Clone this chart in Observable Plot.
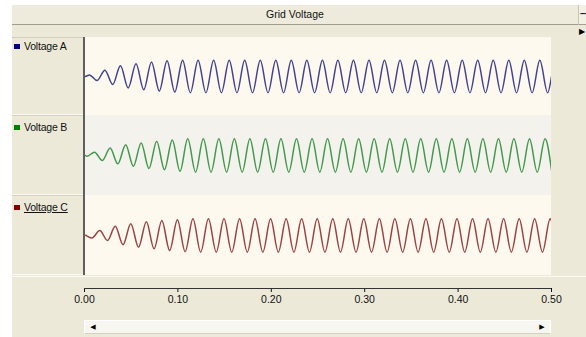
<!DOCTYPE html>
<html>
<head>
<meta charset="utf-8">
<script src="https://cdn.jsdelivr.net/npm/d3@7"></script>
<script src="https://cdn.jsdelivr.net/npm/@observablehq/plot@0.6"></script>
<style>
  html, body { margin: 0; padding: 0; background: #ffffff; }
  body { width: 586px; height: 337px; position: relative; overflow: hidden;
         font-family: "Liberation Sans", "DejaVu Sans", sans-serif; }
  .abs { position: absolute; }
  #frame { left: 12px; top: 5px; width: 574px; height: 332px; background: #ece9d8; }
  #titlebar { left: 12px; top: 5px; width: 566px; height: 19px; background: #eeebdd;
              border-bottom: 1px solid #a19e8f; font-size: 10.5px; color: #111;
              text-align: center; line-height: 19px; }
  #minbtn { left: 578px; top: 5px; width: 8px; height: 19px; background: #f3f1e6;
            border-left: 1px solid #c9c5b3; border-bottom: 1px solid #a19e8f;
            font-size: 11px; font-weight: bold; line-height: 17px; text-align: center; color: #222; }
  .cell { left: 12px; width: 71px; background: #ece9d8; box-sizing: border-box;
          border-bottom: 1px solid #fbfaf4; border-top: 1px solid #d3cfbf; }
  .lab { left: 14px; font-size: 10.5px; color: #111; line-height: 12px; white-space: nowrap; letter-spacing: -0.2px; }
  .sw { display: inline-block; width: 6px; height: 5px; margin-right: 4px; vertical-align: 1px; }
  #vline { left: 83px; top: 37px; width: 2px; height: 238px; background: #5f5f5f; }
  .panel { left: 85px; }
  #band { left: 12px; top: 276px; width: 574px; height: 1px; background: #fbfaf4; }
  #scroll { left: 84px; top: 320px; width: 467px; height: 14px; background: #f7f6f1;
            box-sizing: border-box; border: 1px solid #ffffff; border-bottom-color: #d6d2c2; }
  .arrow { top: 0px; width: 12px; height: 12px; font-size: 7px; line-height: 12px; text-align: center; color: #000; }
  #rtri { left: 579px; top: 27px; font-size: 8px; color: #000; }
</style>
</head>
<body>
<script>
// ---- data ----
const title = "Grid Voltage";
const seriesNames = ["Voltage A", "Voltage B", "Voltage C"];
const seriesColors = ["#2d2d86", "#2f8f3a", "#8e2f2f"];
const swatchColors = ["#000080", "#008000", "#800000"];
const panelFills = ["#fdf9ef", "#f3f2ec", "#fdf9ef"];

const tickValues = [0, 0.1, 0.2, 0.3, 0.4, 0.5];
const tickLabels = ["0.00", "0.10", "0.20", "0.30", "0.40", "0.50"];

// time (s) of each extremum of each trace, with the start and end of the record
const timeA = [0, 0.0042, 0.0125, 0.0208, 0.0292, 0.0375, 0.0458, 0.0542, 0.0625, 0.0708, 0.0792,
  0.0875, 0.0958, 0.1042, 0.1125, 0.1208, 0.1292, 0.1375, 0.1458, 0.1542, 0.1625, 0.1708, 0.1792,
  0.1875, 0.1958, 0.2042, 0.2125, 0.2208, 0.2292, 0.2375, 0.2458, 0.2542, 0.2625, 0.2708, 0.2792,
  0.2875, 0.2958, 0.3042, 0.3125, 0.3208, 0.3292, 0.3375, 0.3458, 0.3542, 0.3625, 0.3708, 0.3792,
  0.3875, 0.3958, 0.4042, 0.4125, 0.4208, 0.4292, 0.4375, 0.4458, 0.4542, 0.4625, 0.4708, 0.4792,
  0.4875, 0.4958, 0.5];
const voltA = [0, 0.1, -0.24, 0.39, -0.49, 0.66, -0.7, 0.78, -0.82, 0.9, -0.9, 0.97, -0.96,
  1, -1, 1, -1, 1, -1, 1, -1, 1, -1, 1, -1,
  1, -1, 1, -1, 1, -1, 1, -1, 1, -1, 1, -1,
  1, -1, 1, -1, 1, -1, 1, -1, 1, -1, 1, -1,
  1, -1, 1, -1, 1, -1, 1, -1, 1, -1, 1, -1,
  0];

const timeB = [0, 0.0014, 0.0097, 0.0181, 0.0264, 0.0347, 0.0431, 0.0514, 0.0597, 0.0681, 0.0764,
  0.0847, 0.0931, 0.1014, 0.1097, 0.1181, 0.1264, 0.1347, 0.1431, 0.1514, 0.1597, 0.1681, 0.1764,
  0.1847, 0.1931, 0.2014, 0.2097, 0.2181, 0.2264, 0.2347, 0.2431, 0.2514, 0.2597, 0.2681, 0.2764,
  0.2847, 0.2931, 0.3014, 0.3097, 0.3181, 0.3264, 0.3347, 0.3431, 0.3514, 0.3597, 0.3681, 0.3764,
  0.3847, 0.3931, 0.4014, 0.4097, 0.4181, 0.4264, 0.4347, 0.4431, 0.4514, 0.4597, 0.4681, 0.4764,
  0.4847, 0.4931, 0.5];
const voltB = [0, -0.05, 0.2, -0.3, 0.45, -0.5, 0.65, -0.65, 0.75, -0.78, 0.85, -0.85, 0.93, -0.95,
  1, -1, 1, -1, 1, -1, 1, -1, 1, -1, 1, -1,
  1, -1, 1, -1, 1, -1, 1, -1, 1, -1, 1, -1,
  1, -1, 1, -1, 1, -1, 1, -1, 1, -1, 1, -1,
  1, -1, 1, -1, 1, -1, 1, -1, 1, -1, 1,
  -0.87];

const timeC = [0, 0.0069, 0.0153, 0.0236, 0.0319, 0.0403, 0.0486, 0.0569, 0.0653, 0.0736, 0.0819,
  0.0903, 0.0986, 0.1069, 0.1153, 0.1236, 0.1319, 0.1403, 0.1486, 0.1569, 0.1653, 0.1736, 0.1819,
  0.1903, 0.1986, 0.2069, 0.2153, 0.2236, 0.2319, 0.2403, 0.2486, 0.2569, 0.2653, 0.2736, 0.2819,
  0.2903, 0.2986, 0.3069, 0.3153, 0.3236, 0.3319, 0.3403, 0.3486, 0.3569, 0.3653, 0.3736, 0.3819,
  0.3903, 0.3986, 0.4069, 0.4153, 0.4236, 0.4319, 0.4403, 0.4486, 0.4569, 0.4653, 0.4736, 0.4819,
  0.4903, 0.4986, 0.5];
const voltC = [0.02, -0.15, 0.3, -0.3, 0.55, -0.55, 0.7, -0.7, 0.82, -0.8, 0.9, -0.9, 0.95, -0.97,
  1, -1, 1, -1, 1, -1, 1, -1, 1, -1, 1, -1,
  1, -1, 1, -1, 1, -1, 1, -1, 1, -1, 1, -1,
  1, -1, 1, -1, 1, -1, 1, -1, 1, -1, 1, -1,
  1, -1, 1, -1, 1, -1, 1, -1, 1, -1, 1,
  0.87];

const times = [timeA, timeB, timeC];
const volts = [voltA, voltB, voltC];
times.forEach((t, i) => { if (t.length !== volts[i].length) throw new Error("length mismatch " + i + ": " + t.length + " vs " + volts[i].length); });

// ---- layout ----
function add(tag, cls, id, css, html) {
  const el = document.createElement(tag);
  el.className = "abs " + (cls || "");
  if (id) el.id = id;
  if (css) Object.assign(el.style, css);
  if (html != null) el.textContent = html;
  document.body.appendChild(el);
  return el;
}
add("div", "", "frame");
add("div", "", "titlebar", null, title);
add("div", "", "minbtn", null, "\u2013");
add("div", "", "rtri", null, "\u25B6");

const panelTops = [37, 115, 195];
const panelHeights = [78, 80, 80];
const labelCenters = [46, 127, 207];

panelTops.forEach((top, i) => {
  add("div", "cell", null, { top: top + "px", height: panelHeights[i] + "px" });
  const lab = add("div", "lab", null, { top: (labelCenters[i] - 6) + "px" });
  const sw = document.createElement("span");
  sw.className = "sw";
  sw.style.background = swatchColors[i];
  lab.appendChild(sw);
  const txt = document.createElement("span");
  txt.textContent = seriesNames[i];
  if (i === 2) txt.style.textDecoration = "underline";
  lab.appendChild(txt);

  const data = times[i].map((t, k) => ({ t, v: volts[i][k] }));
  const chart = Plot.plot({
    width: 466,
    height: panelHeights[i],
    margin: 0,
    x: { domain: [0, 0.5], axis: null },
    y: { domain: [-2.4, 2.4], axis: null },
    style: { background: panelFills[i], display: "block" },
    marks: [
      Plot.line(data, { x: "t", y: "v", stroke: seriesColors[i], strokeWidth: 1.5, strokeOpacity: 0.9, curve: "monotone-x" })
    ]
  });
  const holder = add("div", "panel", null, { top: top + "px" });
  holder.appendChild(chart);
});

add("div", "", "vline");
add("div", "", "band");

// x axis
const axis = Plot.plot({
  width: 586,
  height: 30,
  marginLeft: 84,
  marginRight: 35,
  marginTop: 0,
  marginBottom: 29,
  x: { domain: [0, 0.5] },
  y: { domain: [0, 1], axis: null },
  style: { background: "transparent", fontFamily: "Liberation Sans, sans-serif", fontSize: "10.5px", color: "#111", display: "block" },
  marks: [
    Plot.axisX({ ticks: tickValues, tickFormat: (d, i) => tickLabels[i], tickSize: 4, tickPadding: 3, anchor: "bottom" }),
    Plot.ruleY([0], { stroke: "#333" })
  ]
});
const axHolder = add("div", "", null, { left: "0px", top: "287px" });
axHolder.appendChild(axis);

// scroll bar
const sc = add("div", "", "scroll");
const la = document.createElement("div"); la.className = "abs arrow"; la.style.left = "2px"; la.textContent = "\u25C0"; sc.appendChild(la);
const ra = document.createElement("div"); ra.className = "abs arrow"; ra.style.right = "2px"; ra.textContent = "\u25B6"; sc.appendChild(ra);
</script>
</body>
</html>
